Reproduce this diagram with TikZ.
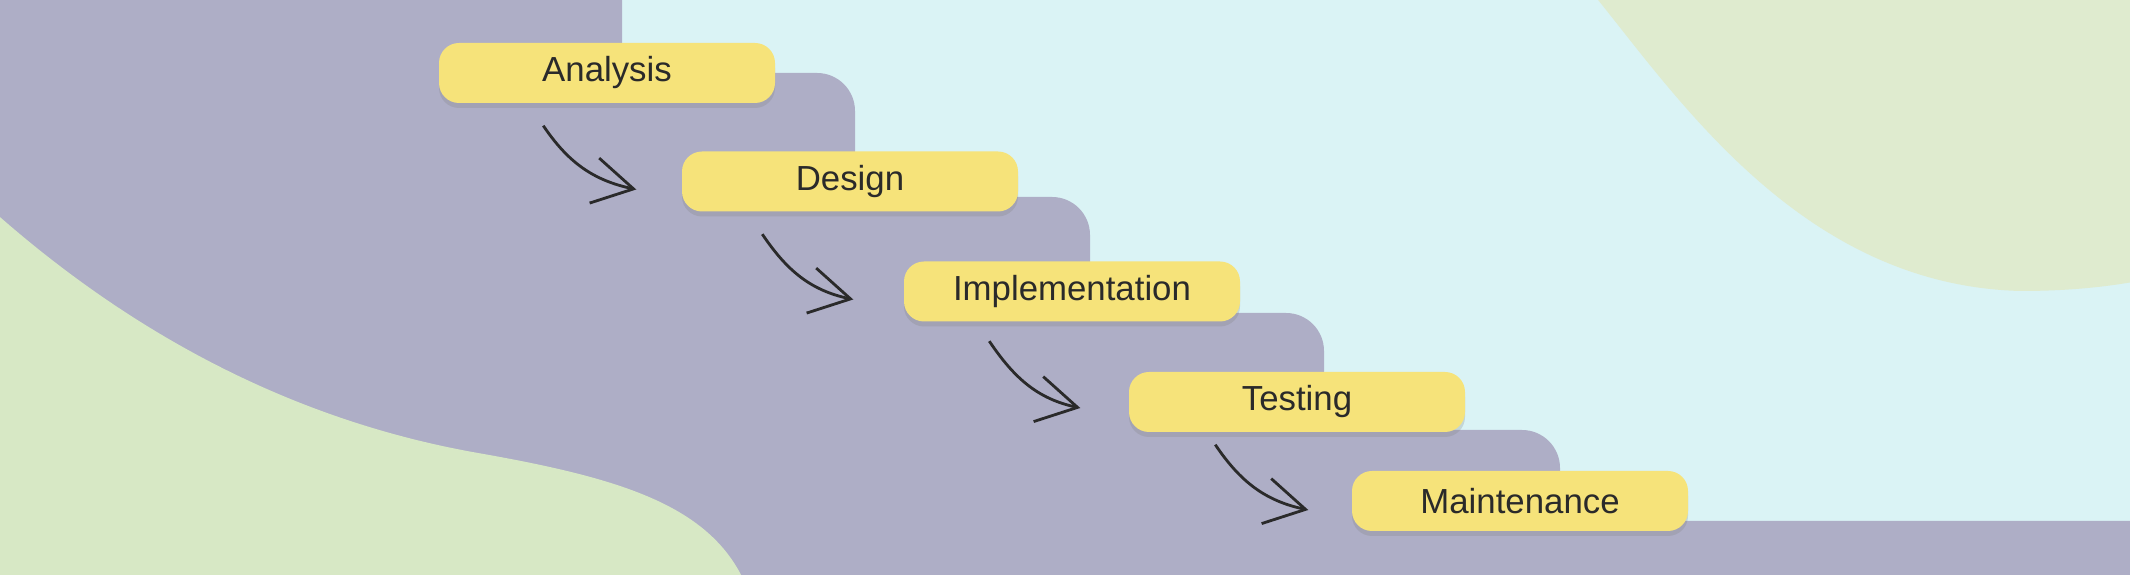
\documentclass[tikz,border=0pt]{standalone}
\usepackage{fontspec}
\setmainfont{Liberation Sans}
\usetikzlibrary{arrows.meta,shadows}

\definecolor{skyback}{HTML}{DAF3F5}
\definecolor{stepgray}{HTML}{AEAEC6}
\definecolor{leafgreen}{HTML}{D7E8C5}
\definecolor{palegreen}{HTML}{DFEBCF}
\definecolor{phaseyellow}{HTML}{F6E37A}
\definecolor{inkdark}{HTML}{2A2A2A}

\begin{document}
\begin{tikzpicture}[
  stair/.style={fill=stepgray, rounded corners=0.38cm},
  phase/.style={fill=phaseyellow, rounded corners=0.2cm, minimum width=3.36cm,
    minimum height=0.6cm, inner sep=0pt, text=inkdark,
    font=\fontsize{9.9}{12}\selectfont,
    drop shadow={shadow xshift=0pt, shadow yshift=-0.05cm, opacity=0.25}},
  flow/.style={line width=0.8pt, inkdark,
    -{Straight Barb[length=0.40cm, width=0.46cm]}}
]
  \useasboundingbox (0,0) rectangle (21.30,5.75);
  \clip (0,0) rectangle (21.30,5.75);
  \fill[skyback] (0,0) rectangle (21.30,5.75);

  % green blob, top right
  \fill[palegreen] (15.90,5.85) .. controls (16.76,4.80) and (18.00,2.90) .. (20.20,2.84)
    .. controls (20.80,2.84) and (21.20,2.90) .. (21.60,2.98) -- (21.60,6.20)
    -- (15.90,6.20) -- cycle;

  % the stairs
  \fill[stair] (-1,-1) rectangle (6.22,6.50);
  \fill[stair] (-1,-1) rectangle (8.55,5.02);
  \fill[stair] (-1,-1) rectangle (10.90,3.78);
  \fill[stair] (-1,-1) rectangle (13.24,2.62);
  \fill[stair] (-1,-1) rectangle (15.60,1.45);
  \fill[stair] (-1,-1) rectangle (22.50,0.54);

  % green blob, bottom left
  \fill[leafgreen] (-0.30,3.85) .. controls (1.20,2.45) and (2.90,1.55) .. (4.78,1.22)
    .. controls (6.20,0.97) and (7.10,0.70) .. (7.45,-0.08) -- (7.60,-0.50)
    -- (-0.50,-0.50) -- cycle;

  \node[phase] (analysis) at (6.07,5.02) {Analysis};
  \node[phase] (design) at (8.50,3.935) {Design};
  \node[phase] (implementation) at (10.72,2.835) {Implementation};
  \node[phase] (testing) at (12.97,1.73) {Testing};
  \node[phase] (maintenance) at (15.20,0.74) {Maintenance};

  \draw[flow] ([xshift=1.05cm,yshift=-0.22cm]analysis.south west)
    to[out=-56,in=168] ([xshift=-0.45cm,yshift=-0.08cm]design.west);
  \draw[flow] ([xshift=0.81cm,yshift=-0.22cm]design.south west)
    to[out=-56,in=168] ([xshift=-0.50cm,yshift=-0.08cm]implementation.west);
  \draw[flow] ([xshift=0.86cm,yshift=-0.19cm]implementation.south west)
    to[out=-56,in=168] ([xshift=-0.48cm,yshift=-0.06cm]testing.west);
  \draw[flow] ([xshift=0.87cm,yshift=-0.12cm]testing.south west)
    to[out=-56,in=168] ([xshift=-0.43cm,yshift=-0.09cm]maintenance.west);
\end{tikzpicture}
\end{document}
